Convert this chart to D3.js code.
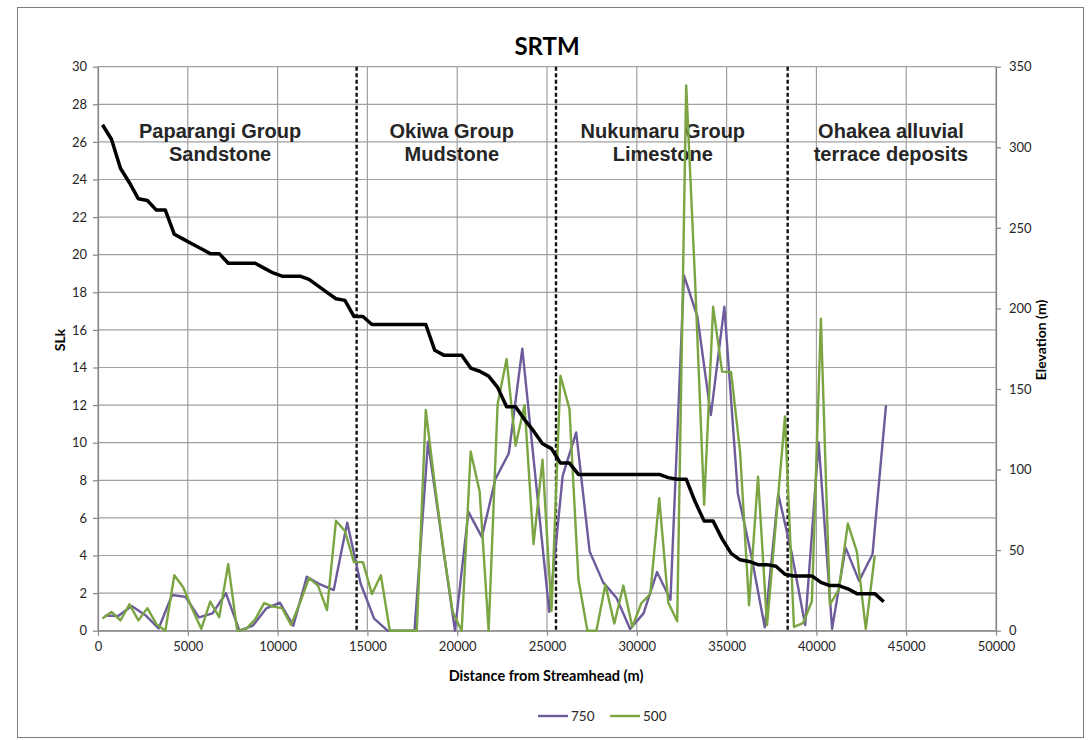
<!DOCTYPE html>
<html>
<head>
<meta charset="utf-8">
<script src="https://cdnjs.cloudflare.com/ajax/libs/d3/7.8.5/d3.min.js"></script>
<style>
  html, body { margin: 0; padding: 0; background: #fff; }
  svg { display: block; }
</style>
</head>
<body>
<svg id="chart" width="1088" height="740"></svg>
<script>
// Sample positions along the stream (m)
const distance500 = [250,750,1250,1750,2250,2750,3250,3750,4250,4750,5250,5750,6250,6750,7250,7750,8250,8750,9250,9750,10250,10750,11250,11750,12250,12750,13250,13750,14250,14750,15250,15750,16250,16750,17250,17750,18250,18750,19250,19750,20250,20750,21250,21750,22250,22750,23250,23750,24250,24750,25250,25750,26250,26750,27250,27750,28250,28750,29250,29750,30250,30750,31250,31750,32250,32750,33250,33750,34250,34750,35250,35750,36250,36750,37250,37750,38250,38750,39250,39750,40250,40750,41250,41750,42250,42750,43250,43750];
const distance750 = [375,1125,1875,2625,3375,4125,4875,5625,6375,7125,7875,8625,9375,10125,10875,11625,12375,13125,13875,14625,15375,16125,16875,17625,18375,19125,19875,20625,21375,22125,22875,23625,24375,25125,25875,26625,27375,28125,28875,29625,30375,31125,31875,32625,33375,34125,34875,35625,36375,37125,37875,38625,39375,40125,40875,41625,42375,43125,43875];

// SLk computed over 750 m segments
const slk750 = [0.8,0.78,1.31,0.84,0.12,1.9,1.8,0.71,0.92,1.99,0.0,0.27,1.19,1.49,0.27,2.87,2.46,2.16,5.75,2.5,0.64,0,0,0,10.05,5.0,0,6.32,4.98,8.06,9.44,15.0,8.0,1.0,8.25,10.55,4.21,2.57,1.74,0.09,0.92,3.12,1.65,18.9,16.7,11.47,17.23,7.3,4.0,0.18,7.27,4.13,0.3,10.02,0.1,4.42,2.65,4.07,11.98];

// SLk computed over 500 m segments
const slk500 = [0.65,1.0,0.55,1.4,0.55,1.2,0.35,0.0,2.95,2.3,1.15,0.1,1.55,0.72,3.55,0.0,0.1,0.6,1.47,1.28,1.2,0.3,1.5,2.8,2.4,1.1,5.85,5.3,3.65,3.65,1.95,2.95,0,0,0,0,11.74,7.8,4.2,1.0,0,9.53,7.4,0,12.05,14.45,9.85,12.0,4.6,9.1,1.05,13.56,11.8,2.72,0,0,2.45,0.38,2.4,0.2,1.46,1.95,7.05,1.5,0.5,29.0,18.5,6.7,17.23,13.78,13.75,9.53,1.35,8.19,0.3,5.8,11.4,0.2,0.4,1.57,16.6,1.38,2.2,5.7,4.22,0.1,4.0];

// Long profile elevation (m), secondary axis
const elevation = [314,305,287,278,268,267,261,261,246,243,240,237,234,234,228,228,228,228,225,222,220,220,220,218,214,210,206,205,195,195,190,190,190,190,190,190,190,174,171,171,171,163,161,158,151,139,139,131,124,116,113,104,104,97,97,97,97,97,97,97,97,97,97,95,94,94,80,68,68,57,48,44,43,41,41,40,35,34,34,34,30,28,28,26,23,23,23,18];

// Lithological boundaries (m) and unit names
const boundaries = [14400, 25500, 38400];
const unitLabels = [
  { center: 6800,  lines: ["Paparangi Group", "Sandstone"] },
  { center: 19700, lines: ["Okiwa Group", "Mudstone"] },
  { center: 31450, lines: ["Nukumaru Group", "Limestone"] },
  { center: 44150, lines: ["Ohakea alluvial", "terrace deposits"] }
];

const xTicks = [0,5000,10000,15000,20000,25000,30000,35000,40000,45000,50000];
const slkTicks = [0,2,4,6,8,10,12,14,16,18,20,22,24,26,28,30];
const elevTicks = [0,50,100,150,200,250,300,350];

const seriesNames = ["750", "500"];
const colors = { s750: "#6d5b9b", s500: "#7ba443", elev: "#000000" };

const svg = d3.select("#chart");
const W = 1088, H = 740;
const plotL = 98, plotR = 996, plotT = 66.7, plotB = 630.7;

svg.append("rect").attr("x", 0).attr("y", 0).attr("width", W).attr("height", H).attr("fill", "#fff");
svg.append("rect").attr("x", 17.5).attr("y", 7.5).attr("width", 1066).attr("height", 730)
  .attr("fill", "none").attr("stroke", "#7f7f7f").attr("stroke-width", 1);

const x = d3.scaleLinear().domain([0, 50000]).range([plotL, plotR]);
const yL = d3.scaleLinear().domain([0, 30]).range([plotB, plotT]);
const yR = d3.scaleLinear().domain([0, 350]).range([plotB, plotT]);

const font = "Lato, 'Open Sans', sans-serif";

// gridlines
const grid = svg.append("g").attr("stroke", "#a0a0a0").attr("stroke-width", 1.2);
slkTicks.forEach(t => {
  grid.append("line").attr("x1", plotL).attr("x2", plotR).attr("y1", yL(t)).attr("y2", yL(t));
});
xTicks.forEach(t => {
  grid.append("line").attr("x1", x(t)).attr("x2", x(t)).attr("y1", plotT).attr("y2", plotB);
});

// axes
function styleAxis(g) {
  g.select(".domain").attr("stroke", "#868686").attr("stroke-width", 1.2);
  g.selectAll(".tick line").attr("stroke", "#868686").attr("stroke-width", 1.2);
  g.selectAll(".tick text").attr("fill", "#262626").style("font-family", font).style("font-size", "13px");
}
svg.append("g").attr("transform", `translate(${plotL},0)`)
  .call(d3.axisLeft(yL).tickValues(slkTicks).tickSize(5).tickPadding(6).tickSizeOuter(0))
  .call(styleAxis);
svg.append("g").attr("transform", `translate(${plotR},0)`)
  .call(d3.axisRight(yR).tickValues(elevTicks).tickSize(5).tickPadding(8).tickSizeOuter(0))
  .call(styleAxis);
svg.append("g").attr("transform", `translate(0,${plotB})`)
  .call(d3.axisBottom(x).tickValues(xTicks).tickFormat(d3.format("d")).tickSize(5).tickPadding(6).tickSizeOuter(0))
  .call(styleAxis);

// boundaries
boundaries.forEach(b => {
  svg.append("line").attr("x1", x(b)).attr("x2", x(b)).attr("y1", plotT).attr("y2", plotB)
    .attr("stroke", "#111").attr("stroke-width", 2.4).attr("stroke-dasharray", "4,2.5");
});

// unit labels
unitLabels.forEach(u => {
  const t = svg.append("text").attr("text-anchor", "middle")
    .style("font-family", "'Liberation Sans', Arial, sans-serif").style("font-weight", "bold")
    .style("font-size", "20px").attr("fill", "#262626");
  u.lines.forEach((ln, i) => {
    t.append("tspan").attr("x", x(u.center)).attr("y", 138 + i * 23).text(ln);
  });
});

// series
const line = (xs, ys, yScale) => d3.line().x((d, i) => x(xs[i])).y(d => yScale(d))(ys);
svg.append("path").attr("d", line(distance750, slk750, yL)).attr("fill", "none")
  .attr("stroke", colors.s750).attr("stroke-width", 2.4).attr("stroke-linejoin", "round");
svg.append("path").attr("d", line(distance500, slk500, yL)).attr("fill", "none")
  .attr("stroke", colors.s500).attr("stroke-width", 2.4).attr("stroke-linejoin", "round");
svg.append("path").attr("d", line(distance500, elevation, yR)).attr("fill", "none")
  .attr("stroke", colors.elev).attr("stroke-width", 3.5).attr("stroke-linejoin", "round");

// titles
svg.append("text").attr("x", 547).attr("y", 55).attr("text-anchor", "middle")
  .style("font-family", font).style("font-weight", "bold").style("font-size", "24px")
  .attr("fill", "#000").text("SRTM");
svg.append("text").attr("x", 546).attr("y", 681).attr("text-anchor", "middle")
  .style("font-family", font).style("font-weight", "bold").style("font-size", "14.5px")
  .attr("fill", "#000").text("Distance from Streamhead (m)");
svg.append("text").attr("transform", "translate(65,340) rotate(-90)").attr("text-anchor", "middle")
  .style("font-family", font).style("font-weight", "bold").style("font-size", "14px")
  .attr("fill", "#000").text("SLk");
svg.append("text").attr("transform", "translate(1046,340) rotate(-90)").attr("text-anchor", "middle")
  .style("font-family", font).style("font-weight", "bold").style("font-size", "14px")
  .attr("fill", "#000").text("Elevation (m)");

// legend
const legend = svg.append("g");
[colors.s750, colors.s500].forEach((c, i) => {
  const lx = 538 + i * 72;
  legend.append("line").attr("x1", lx).attr("x2", lx + 30).attr("y1", 716).attr("y2", 716)
    .attr("stroke", c).attr("stroke-width", 2.4);
  legend.append("text").attr("x", lx + 33).attr("y", 721)
    .style("font-family", font).style("font-size", "13.5px").attr("fill", "#262626").text(seriesNames[i]);
});
</script>
</body>
</html>
